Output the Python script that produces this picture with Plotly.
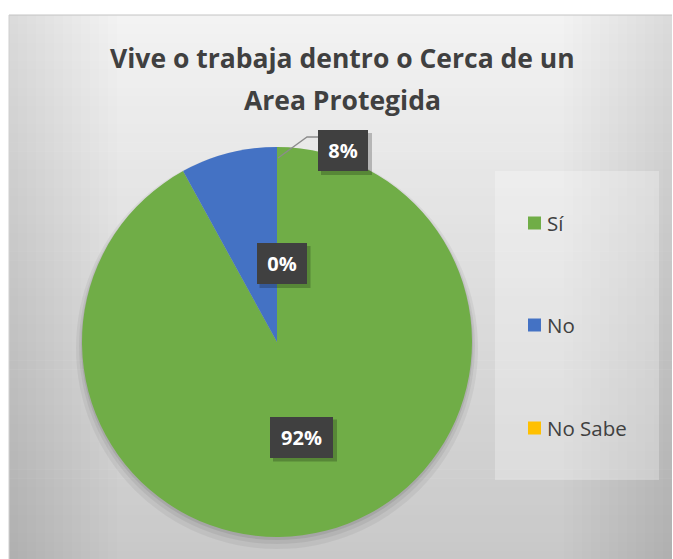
import plotly.graph_objects as go

# ---- data ----
categories = ["Sí", "No", "No Sabe"]
values = [92, 8, 0]
colors = ["#70AD47", "#4472C4", "#FFC000"]
title_lines = ["Vive o trabaja dentro o Cerca de un", "Area Protegida"]

W, H = 673, 559

def px(x):
    return x / W

def py(y):
    return 1 - y / H

total = sum(values)
pct_text = [f"{round(v / total * 100)}%" for v in values]

fig = go.Figure()

# pie geometry (page px): center 277,342 ; radius 195
cx, cy, r = 277, 342, 195
fig.add_trace(go.Pie(
    labels=categories,
    values=values,
    marker=dict(colors=colors, line=dict(width=0)),
    sort=False,
    direction="clockwise",
    rotation=0,
    textinfo="none",
    hoverinfo="label+percent",
    showlegend=False,
    domain=dict(x=[px(cx - r), px(cx + r)], y=[py(cy + r), py(cy - r)]),
))

shapes = []
# background gradient box
x0b, x1b, y0b, y1b = 9, 672, 15, 560
nb = 60
top_c, bot_c = 243, 200
for i in range(nb):
    ya = y0b + (y1b - y0b) * i / nb
    yb = y0b + (y1b - y0b) * (i + 1) / nb + 0.6
    t = (i + 0.5) / nb
    c = round(top_c + (bot_c - top_c) * t)
    shapes.append(dict(type="rect", xref="paper", yref="paper",
                       x0=px(x0b), x1=px(x1b), y0=py(yb), y1=py(ya),
                       fillcolor=f"rgb({c},{c},{c})", line=dict(width=0), layer="below"))
# side darkening
ns = 12
sw = 9
for i in range(ns):
    op = 0.007
    shapes.append(dict(type="rect", xref="paper", yref="paper",
                       x0=px(x0b), x1=px(x0b + sw * (ns - i)), y0=py(y1b), y1=py(y0b),
                       fillcolor="black", opacity=op, line=dict(width=0), layer="below"))
    shapes.append(dict(type="rect", xref="paper", yref="paper",
                       x0=px(x1b - sw * (ns - i)), x1=px(x1b), y0=py(y1b), y1=py(y0b),
                       fillcolor="black", opacity=op, line=dict(width=0), layer="below"))
# border lines
shapes.append(dict(type="line", xref="paper", yref="paper",
                   x0=px(x0b), x1=px(x1b), y0=py(y0b), y1=py(y0b),
                   line=dict(color="#c4c4c4", width=1), layer="below"))
shapes.append(dict(type="line", xref="paper", yref="paper",
                   x0=px(x0b), x1=px(x0b), y0=py(y1b), y1=py(y0b),
                   line=dict(color="#cfcfcf", width=1), layer="below"))

# legend box
shapes.append(dict(type="rect", xref="paper", yref="paper",
                   x0=px(495), x1=px(659), y0=py(480), y1=py(171),
                   fillcolor="rgba(255,255,255,0.28)", line=dict(width=0), layer="below"))

# pie soft shadow
for off, grow, op in [(6, 6, 0.05), (4, 3, 0.06), (2, 1, 0.08)]:
    shapes.append(dict(type="circle", xref="paper", yref="paper",
                       x0=px(cx - r - grow), x1=px(cx + r + grow),
                       y0=py(cy + r + grow + off), y1=py(cy - r - grow + off),
                       fillcolor="black", opacity=op, line=dict(width=0), layer="below"))

# leader line for the "No" label
shapes.append(dict(type="path", xref="paper", yref="paper",
                   path=f"M {px(278)},{py(158)} L {px(307)},{py(137)} L {px(318)},{py(137)}",
                   line=dict(color="#8c8c8c", width=1.3), layer="above"))

# data label boxes: (center x, center y, width, height) per category
label_pos = [(301.5, 437, 63, 41), (343, 150.5, 50, 41), (281.5, 263.5, 50, 41)]
annotations = []
for (lx, ly, bw, bh), txt in zip(label_pos, pct_text):
    shapes.append(dict(type="rect", xref="paper", yref="paper",
                       x0=px(lx - bw / 2 + 3), x1=px(lx + bw / 2 + 4),
                       y0=py(ly + bh / 2 + 4), y1=py(ly - bh / 2 + 3),
                       fillcolor="black", opacity=0.22, line=dict(width=0), layer="above"))
    annotations.append(dict(
        x=px(lx), y=py(ly), xref="paper", yref="paper",
        text=f"<b>{txt}</b>", showarrow=False,
        font=dict(family="Open Sans", size=20, color="white"),
        bgcolor="#404040", width=bw, height=bh, borderpad=0, borderwidth=0,
        xanchor="center", yanchor="middle", align="center", valign="middle",
    ))

# legend (manual)
leg_y = [223, 325, 428]
for name, col, ly in zip(categories, colors, leg_y):
    shapes.append(dict(type="rect", xref="paper", yref="paper",
                       x0=px(528), x1=px(541), y0=py(ly + 6.5), y1=py(ly - 6.5),
                       fillcolor=col, line=dict(width=0), layer="above"))
    annotations.append(dict(
        x=px(545), y=py(ly), xref="paper", yref="paper", text=name, showarrow=False,
        xanchor="left", yanchor="middle",
        font=dict(family="Open Sans", size=20.5, color="#404040"),
    ))

# title (two lines)
for line, ty in zip(title_lines, [58, 100]):
    annotations.append(dict(
        x=px(342), y=py(ty), xref="paper", yref="paper", text=f"<b>{line}</b>",
        showarrow=False, xanchor="center", yanchor="middle",
        font=dict(family="Open Sans", size=26.5, color="#404040"),
    ))

fig.update_layout(
    width=W, height=H,
    margin=dict(l=0, r=0, t=0, b=0),
    paper_bgcolor="white",
    plot_bgcolor="white",
    shapes=shapes,
    annotations=annotations,
    showlegend=False,
)

fig.write_html(
    "out.html",
    config={"displayModeBar": False},
    post_script="document.body.style.margin='0';document.body.style.overflow='hidden';",
)
